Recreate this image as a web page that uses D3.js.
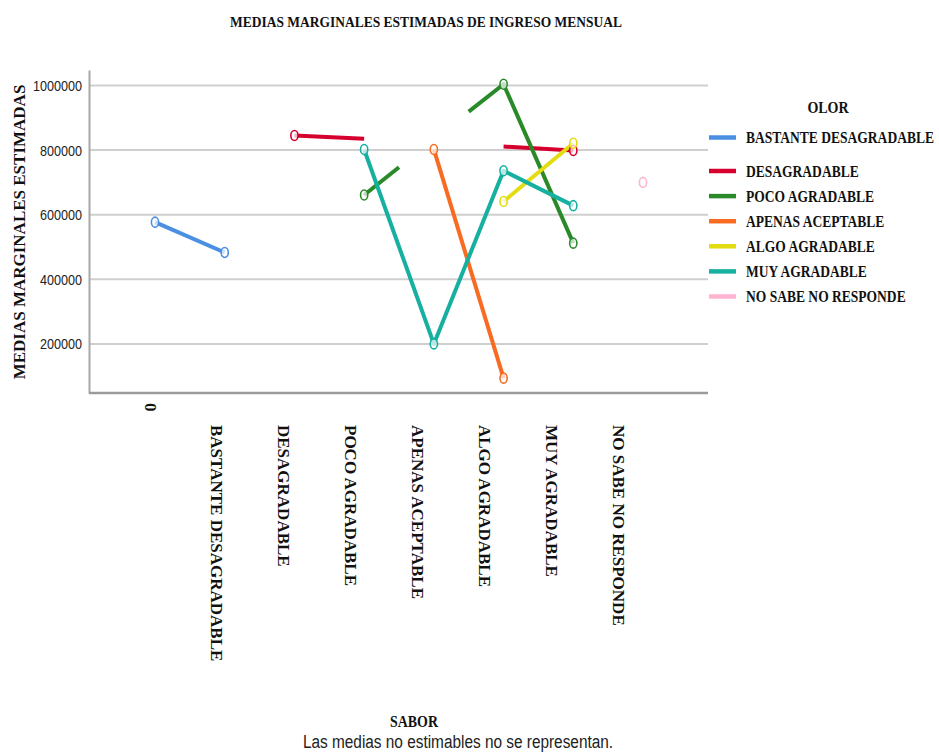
<!DOCTYPE html>
<html>
<head>
<meta charset="utf-8">
<script src="https://cdn.jsdelivr.net/npm/d3@7"></script>
<style>
  html, body { margin: 0; padding: 0; background: #fff; }
  svg { display: block; }
</style>
</head>
<body>
<svg id="chart" width="939" height="753"></svg>
<script>
// ---------------- DATA ----------------
const sabor = ["0", "BASTANTE DESAGRADABLE", "DESAGRADABLE", "POCO AGRADABLE",
  "APENAS ACEPTABLE", "ALGO AGRADABLE", "MUY AGRADABLE", "NO SABE NO RESPONDE"];
const olor = ["BASTANTE DESAGRADABLE", "DESAGRADABLE", "POCO AGRADABLE",
  "APENAS ACEPTABLE", "ALGO AGRADABLE", "MUY AGRADABLE", "NO SABE NO RESPONDE"];
const olorColors = ["#4a8fe2", "#d6002e", "#2a8a2a", "#f96a22", "#e2dc10", "#16b0a0", "#ffb4d2"];
const yTicks = [200000, 400000, 600000, 800000, 1000000];

// each series: list of line pieces; each point = [position on SABOR axis (index), estimated mean, marker shown]
const bastanteDesagradable = [[[0, 577000, 1], [1, 483000, 1]]];
const desagradable = [[[2, 845000, 1], [3, 835000, 0]], [[5, 811000, 0], [6, 799000, 1]]];
const pocoAgradable = [[[3, 661000, 1], [3.5, 747000, 0]], [[4.5, 919000, 0], [5, 1004000, 1], [6, 512000, 1]]];
const apenasAceptable = [[[4, 802000, 1], [5, 94000, 1]]];
const algoAgradable = [[[5, 641000, 1], [6, 821000, 1]]];
const muyAgradable = [[[3, 802000, 1], [4, 200000, 1], [5, 736000, 1], [6, 628000, 1]]];
const noSabeNoResponde = [[[7, 700000, 1]]];

const seriesData = [bastanteDesagradable, desagradable, pocoAgradable, apenasAceptable,
  algoAgradable, muyAgradable, noSabeNoResponde];

// ---------------- LAYOUT ----------------
const svg = d3.select("#chart");
const plot = { left: 89, right: 708, top: 70, bottom: 393 };
const serif = "'Liberation Serif', 'Times New Roman', serif";
const sans = "'Liberation Sans', Arial, sans-serif";

// horizontally condensed text placed at (x, y)
function condensedText(parent, x, yPos, f) {
  return parent.append("text").attr("transform", `translate(${x},${yPos}) scale(${f},1)`);
}

const y = d3.scaleLinear().domain([48000, 1048000]).range([plot.bottom, plot.top]);
const x = d3.scaleLinear().domain([0, sabor.length - 1]).range([155, 643]);
const xLabel = d3.scalePoint().domain(sabor).range([144, 612]);

// gridlines
svg.append("g").selectAll("line").data(yTicks).join("line")
  .attr("x1", plot.left).attr("x2", plot.right)
  .attr("y1", d => y(d)).attr("y2", d => y(d))
  .attr("stroke", "#cfcfcf").attr("stroke-width", 2);

// y axis
const yAxisG = svg.append("g").attr("transform", `translate(${plot.left},0)`)
  .call(d3.axisLeft(y).tickValues(yTicks).tickFormat(d3.format("d")).tickSize(0).tickPadding(7));
yAxisG.select(".domain").attr("stroke", "#a8a8a8").attr("stroke-width", 2);
yAxisG.selectAll(".tick text").each(function () {
  const t = d3.select(this);
  const xx = +t.attr("x");
  t.attr("x", 0).attr("transform", `translate(${xx},0) scale(0.9,1)`);
});
yAxisG.selectAll("text").attr("font-family", sans).attr("font-size", 14).attr("fill", "#222")
  .attr("dy", "0.36em");

// x axis line
svg.append("line").attr("x1", plot.left).attr("x2", plot.right)
  .attr("y1", plot.bottom).attr("y2", plot.bottom)
  .attr("stroke", "#9a9a9a").attr("stroke-width", 2.5);

// x labels (rotated)
const xAxisG = svg.append("g").attr("transform", `translate(0,${plot.bottom})`)
  .call(d3.axisBottom(xLabel).tickSize(0).tickPadding(0));
xAxisG.select(".domain").remove();
xAxisG.selectAll("text")
  .attr("font-family", serif).attr("font-weight", "bold").attr("font-size", 17).attr("fill", "#111")
  .attr("text-anchor", "start")
  .attr("transform", "rotate(90)")
  .attr("x", d => d === "0" ? 10 : 32).attr("y", 0).attr("dy", "0");

// lines
const line = d3.line().x(d => x(d[0])).y(d => y(d[1]));
seriesData.forEach((pieces, i) => {
  const g = svg.append("g");
  g.selectAll("path").data(pieces.filter(p => p.length > 1)).join("path")
    .attr("d", line).attr("fill", "none")
    .attr("stroke", olorColors[i]).attr("stroke-width", 4)
    .attr("stroke-linecap", "butt").attr("stroke-linejoin", "round");
});
seriesData.forEach((pieces, i) => {
  const pts = pieces.flat().filter(d => d[2]);
  svg.append("g").selectAll("ellipse").data(pts).join("ellipse")
    .attr("cx", d => x(d[0])).attr("cy", d => y(d[1]))
    .attr("rx", 3.6).attr("ry", 5)
    .attr("fill", "#fff").attr("fill-opacity", 0.7)
    .attr("stroke", olorColors[i]).attr("stroke-width", 1.6);
});

// title
condensedText(svg, 426, 27, 0.87).attr("text-anchor", "middle")
  .attr("font-family", serif).attr("font-weight", "bold").attr("font-size", 15.5).attr("fill", "#111")
  .text("MEDIAS MARGINALES ESTIMADAS DE INGRESO MENSUAL");

// y title
svg.append("text").attr("transform", "translate(25,232) rotate(-90)").attr("text-anchor", "middle")
  .attr("font-family", serif).attr("font-weight", "bold").attr("font-size", 17).attr("fill", "#111")
  .text("MEDIAS MARGINALES ESTIMADAS");

// x title + footnote
condensedText(svg, 414, 727, 0.82).attr("text-anchor", "middle")
  .attr("font-family", serif).attr("font-weight", "bold").attr("font-size", 17).attr("fill", "#111")
  .text("SABOR");
condensedText(svg, 458, 748, 0.81).attr("text-anchor", "middle")
  .attr("font-family", sans).attr("font-size", 19).attr("fill", "#222")
  .text("Las medias no estimables no se representan.");

// legend
condensedText(svg, 828, 113, 0.85).attr("text-anchor", "middle")
  .attr("font-family", serif).attr("font-weight", "bold").attr("font-size", 16.5).attr("fill", "#111")
  .text("OLOR");
const legY = i => i === 0 ? 137.5 : 171 + (i - 1) * 25.1;
const leg = svg.append("g").selectAll("g").data(olor).join("g")
  .attr("transform", (d, i) => `translate(0,${legY(i)})`);
leg.append("line").attr("x1", 709).attr("x2", 736).attr("y1", 0).attr("y2", 0)
  .attr("stroke", (d, i) => olorColors[i]).attr("stroke-width", 4.5);
leg.append("text").attr("transform", "translate(746,5.8) scale(0.82,1)")
  .attr("font-family", serif).attr("font-weight", "bold").attr("font-size", 16.5).attr("fill", "#111")
  .text(d => d);
</script>
</body>
</html>
